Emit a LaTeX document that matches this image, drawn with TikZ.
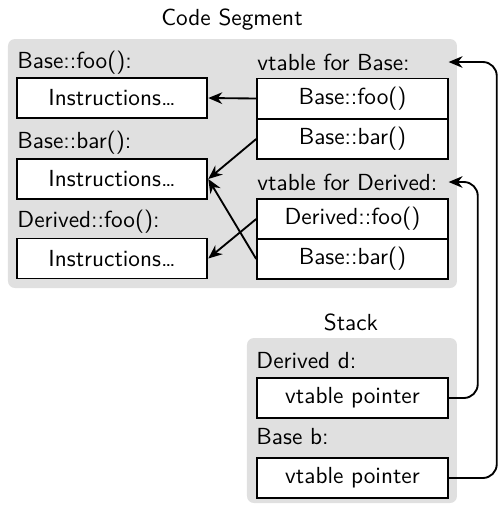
\documentclass[tikz,border=0pt]{standalone}
\usepackage{amsmath}
\usepackage{xcolor}
\usetikzlibrary{arrows.meta}

\begin{document}
\begin{tikzpicture}[x=0.43pt,y=-0.43pt,font=\sffamily,
        box/.style={draw,thick,fill=white,minimum width=82pt,minimum height=17.2pt,inner sep=0pt},
        lbl/.style={anchor=west,inner sep=0pt},
        vlbl/.style={anchor=west,inner sep=0pt,text width=82pt,align=left},
        area/.style={fill=black!12,rounded corners=3pt},
        arr/.style={thick,-{Stealth[length=6pt,width=5pt]}}]
            \useasboundingbox (0,0) rectangle (498,505);
            % code segment
            \node (cstitle) at (232,20) {Code Segment};
            \fill[area] (8,39) rectangle (457,288);
            \node[lbl] (lbfoo) at (17,63) {Base::foo():};
            \node[box] (ins1) at (112,98) {Instructions\dots};
            \node[lbl] (lbbar) at (17,143) {Base::bar():};
            \node[box] (ins2) at (112,179) {Instructions\dots};
            \node[lbl] (ldfoo) at (17,222) {Derived::foo():};
            \node[box] (ins3) at (112,258.5) {Instructions\dots};
            \node[vlbl] (vtb) at (257,62) {vtable for Base:};
            \node[box] (vbfoo) at (352.5,98.5) {Base::foo()};
            \node[box] (vbbar) at (352.5,139) {Base::bar()};
            \node[vlbl] (vtd) at (257,182) {vtable for Derived:};
            \node[box] (vdfoo) at (352.5,219) {Derived::foo()};
            \node[box] (vdbar) at (352.5,259) {Base::bar()};
            \draw[arr] (vbfoo.west) -- (ins1.east);
            \draw[arr] (vbbar.west) -- (ins2.east);
            \draw[arr] (vdfoo.west) -- (ins3.east);
            \draw[arr] (vdbar.west) -- (ins2.east);
            % stack
            \node (sttitle) at (351,322) {Stack};
            \fill[area] (247,338) rectangle (457,503);
            \node[lbl] (ld) at (256,361) {Derived d:};
            \node[box] (ptrd) at (352.5,398) {vtable pointer};
            \node[lbl] (lb) at (256,437) {Base b:};
            \node[box] (ptrb) at (352.5,478) {vtable pointer};
            \draw[arr,rounded corners=6pt] (ptrd.east) -- ++(29,0) |- (vtd.east);
            \draw[arr,rounded corners=6pt] (ptrb.east) -- ++(48,0) |- (vtb.east);
        \end{tikzpicture}
\end{document}
